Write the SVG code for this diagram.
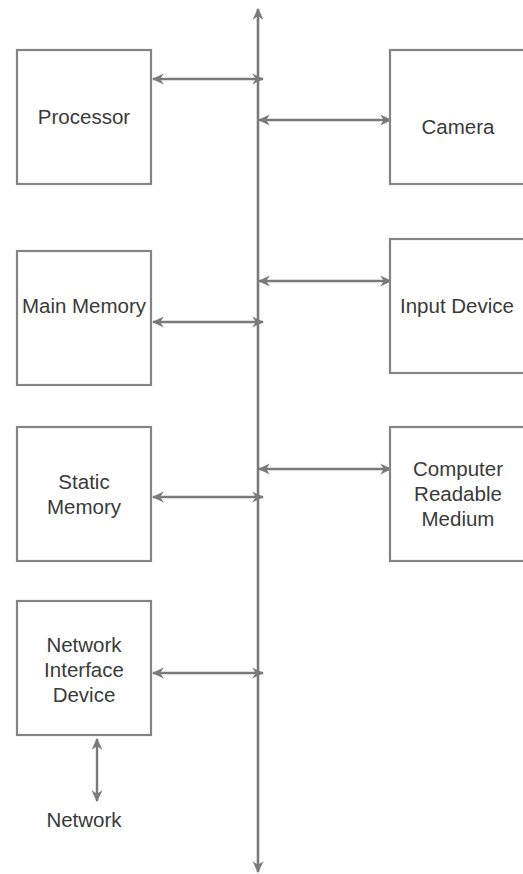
<svg xmlns="http://www.w3.org/2000/svg" width="523" height="874" viewBox="0 0 523 874">
<defs>
<marker id="ah" viewBox="0 0 10 10" refX="9" refY="5" markerWidth="12" markerHeight="12" markerUnits="userSpaceOnUse" orient="auto-start-reverse">
<path d="M0,0.5 L10,5 L0,9.5 L3,5 z" fill="#7a7a7a"/>
</marker>
</defs>
<style>
.box{fill:#fff;stroke:#848484;stroke-width:2.2}
.t{font-family:"Liberation Sans",Arial,sans-serif;font-size:20.5px;fill:#3a3a3a;text-anchor:middle}
.c{stroke:#7a7a7a;stroke-width:2.4;fill:none;marker-start:url(#ah);marker-end:url(#ah)}
.bus{stroke:#7a7a7a;stroke-width:2.6;fill:none;marker-start:url(#ah);marker-end:url(#ah)}
</style>
<rect width="523" height="874" fill="#fff"/>
<g id="connectors">
<line class="bus" x1="258" y1="9" x2="258" y2="872"/>
<line class="c" x1="153" y1="79" x2="263" y2="79"/>
<line class="c" x1="259" y1="120" x2="391" y2="120"/>
<line class="c" x1="259" y1="281" x2="391" y2="281"/>
<line class="c" x1="153" y1="322" x2="263" y2="322"/>
<line class="c" x1="259" y1="469" x2="391" y2="469"/>
<line class="c" x1="153" y1="497" x2="263" y2="497"/>
<line class="c" x1="153" y1="673" x2="263" y2="673"/>
<line class="c" x1="97" y1="739" x2="97" y2="801"/>
</g>
<g id="processor"><rect class="box" x="17" y="50" width="134" height="134"/><text class="t" x="84" y="124">Processor</text></g>
<g id="camera"><rect class="box" x="390" y="50" width="140" height="134"/><text class="t" x="458" y="134">Camera</text></g>
<g id="main-memory"><rect class="box" x="17" y="251" width="134" height="134"/><text class="t" x="84" y="313">Main Memory</text></g>
<g id="input-device"><rect class="box" x="390" y="239" width="140" height="134"/><text class="t" x="457" y="313">Input Device</text></g>
<g id="static-memory"><rect class="box" x="17" y="427" width="134" height="134"/><text class="t" x="84" y="489">Static</text><text class="t" x="84" y="514">Memory</text></g>
<g id="crm"><rect class="box" x="390" y="427" width="140" height="134"/><text class="t" x="458" y="476">Computer</text><text class="t" x="458" y="501">Readable</text><text class="t" x="458" y="526">Medium</text></g>
<g id="nid"><rect class="box" x="17" y="601" width="134" height="134"/><text class="t" x="84" y="652">Network</text><text class="t" x="84" y="677">Interface</text><text class="t" x="84" y="702">Device</text></g>
<g id="network"><text class="t" x="84" y="827">Network</text></g>
</svg>
